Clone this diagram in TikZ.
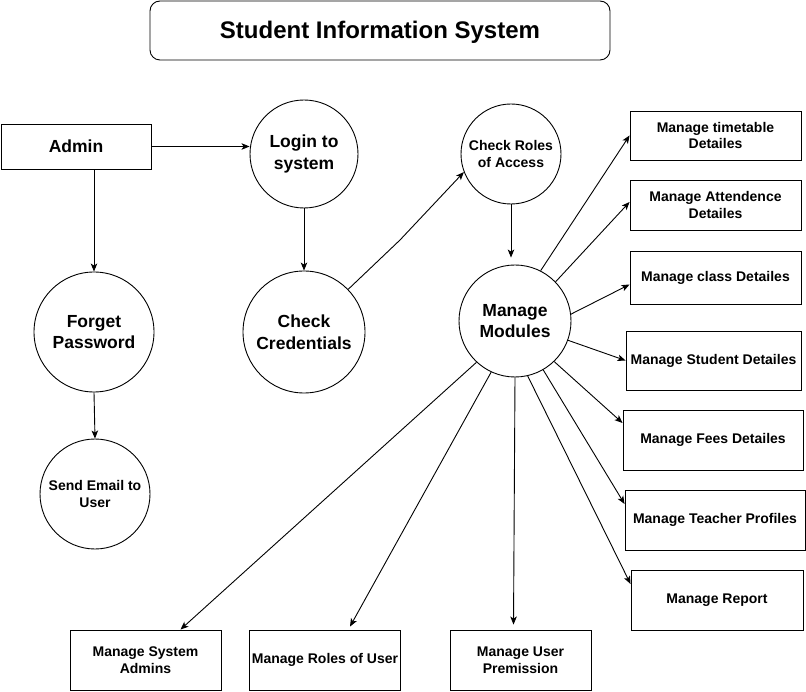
\documentclass[tikz,border=0pt]{standalone}
\usepackage{fontspec}
\setmainfont{Liberation Sans}
\usepackage{tikz}
\usetikzlibrary{shapes, arrows.meta, positioning, calc}

\begin{document}
\begin{tikzpicture}[x=1pt, y=-1pt, line width=0.9pt,
    flow/.style={-{Stealth[length=8pt, width=6.5pt, inset=2pt]}},
    procbox/.style={draw, rectangle, align=center, inner sep=2pt, font=\fontsize{14}{16.8}\selectfont\bfseries},
    bigproc/.style={draw, circle, inner sep=0pt, align=center, font=\fontsize{17.5}{21.5}\selectfont\bfseries},
    smallproc/.style={draw, circle, inner sep=0pt, align=center, font=\fontsize{14}{16.8}\selectfont\bfseries}]
  \useasboundingbox (0, 0) rectangle (806, 692);

  % Title
  \node[draw, rounded corners=10pt, minimum width=460pt, minimum height=59pt, text height=17pt, text depth=0pt, font=\fontsize{24}{28}\selectfont\bfseries] (title) at (380, 30.5) {Student Information System};

  % Admin and login
  \node[draw, rectangle, minimum width=150pt, minimum height=45pt, font=\fontsize{17.5}{21.5}\selectfont\bfseries] (ad) at (76, 146.5) {Admin};
  \node[bigproc, minimum size=108pt] (lg) at (304, 154) {Login to\\system};
  \node[bigproc, minimum size=120pt] (fp) at (94, 332) {Forget\\Password};
  \node[bigproc, minimum size=122pt] (cc) at (304, 332) {Check\\Credentials};
  \node[smallproc, minimum size=110pt] (se) at (95, 494) {Send Email to\\User};
  \node[smallproc, minimum size=100pt] (cr) at (511, 154) {Check Roles\\of Access};
  \node[bigproc, minimum size=112pt] (mm) at (515, 321) {Manage\\Modules};

  % Modules on the right
  \node[procbox, minimum width=171pt, minimum height=49pt] (tt) at (715.5, 135.5) {Manage timetable\\Detailes};
  \node[procbox, minimum width=171pt, minimum height=50pt] (at) at (715.5, 205) {Manage Attendence\\Detailes};
  \node[procbox, minimum width=171pt, minimum height=53pt] (cl) at (715.5, 277.5) {Manage class Detailes};
  \node[procbox, minimum width=175pt, minimum height=59pt] (st) at (713.5, 360.5) {Manage Student Detailes};
  \node[procbox, minimum width=180pt, minimum height=60pt] (fe) at (713, 440) {Manage Fees Detailes};
  \node[procbox, minimum width=180pt, minimum height=60pt] (te) at (715, 520) {Manage Teacher Profiles};
  \node[procbox, minimum width=172pt, minimum height=60pt] (re) at (717, 600) {Manage Report};

  % Modules at the bottom
  \node[procbox, minimum width=151pt, minimum height=60pt] (sa) at (145.5, 660) {Manage System\\Admins};
  \node[procbox, minimum width=150pt, minimum height=60pt] (ro) at (325, 660) {Manage Roles of User};
  \node[procbox, minimum width=141pt, minimum height=60pt] (pm) at (520.5, 660) {Manage User\\Premission};

  % Helper points
  \coordinate (bend) at (400, 240);
  \coordinate (crm) at ([yshift=7pt]mm.north);

  % Login flow
  \draw[flow] (ad.east) -- (ad.east -| lg.west);
  \draw[flow] (ad.south -| fp.north) -- (fp.north);
  \draw[flow] (fp.south) -- (se.north);
  \draw[flow] (lg.south) -- (cc.north);
  \draw[flow] (cc.44) -- (bend) -- (cr.201);
  \draw[flow] (cr.south) -- (cr.south |- crm);

  % Module connectors
  \draw[flow] (mm.63) -- (tt.west);
  \draw[flow] (mm.44) -- ([yshift=3pt]at.west);
  \draw[flow] (mm.7) -- ([yshift=-7pt]cl.west);
  \draw[flow] (mm.-20) -- (st.west);
  \draw[flow] (mm.-46) -- ([yshift=17pt]fe.west);
  \draw[flow] (mm.-60) -- ([yshift=16pt]te.west);
  \draw[flow] (mm.-77) -- ([yshift=16pt]re.west);
  \draw[flow] (mm.-133) -- ([xshift=35pt]sa.north);
  \draw[flow] (mm.-115) -- ([xshift=25pt, yshift=3pt]ro.north);
  \draw[flow] (mm.-90) -- ([xshift=-7pt, yshift=5pt]pm.north);
\end{tikzpicture}
\end{document}
